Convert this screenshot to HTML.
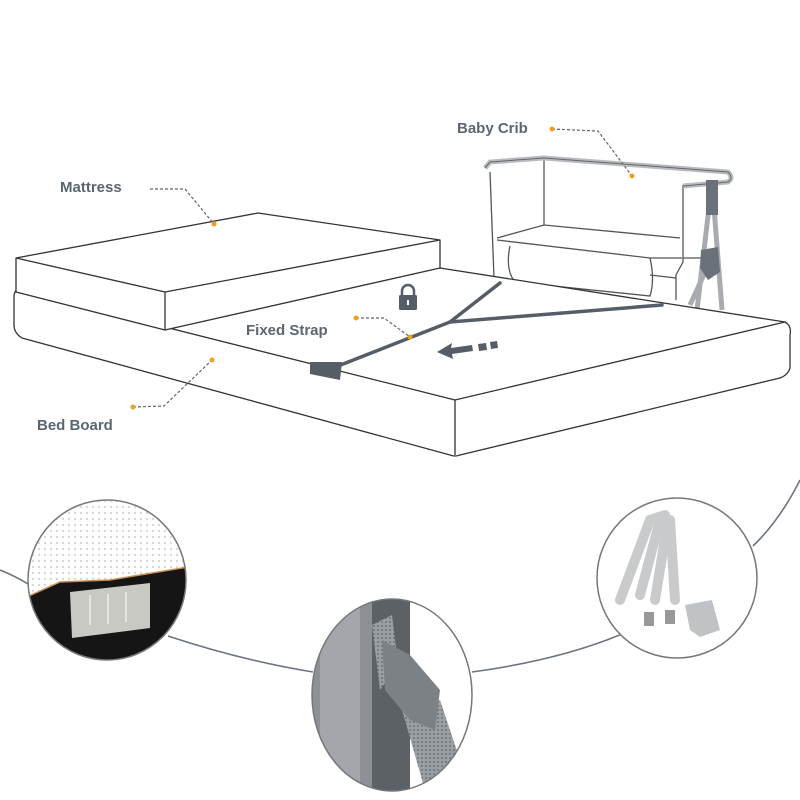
<!DOCTYPE html>
<html><head><meta charset="utf-8"><style>
html,body{margin:0;padding:0;background:#fff;}
svg{display:block}
text{font-family:"Liberation Sans",sans-serif;font-weight:bold;fill:#5b6673;font-size:15px}
</style></head><body>
<svg width="800" height="800" viewBox="0 0 800 800">
<defs>
<clipPath id="c1"><ellipse cx="107" cy="580" rx="79" ry="80"/></clipPath>
<clipPath id="c2"><ellipse cx="392" cy="695" rx="80" ry="96"/></clipPath>
<clipPath id="c3"><ellipse cx="677" cy="578" rx="80" ry="80"/></clipPath>
<pattern id="dots" width="6" height="6" patternUnits="userSpaceOnUse"><circle cx="3" cy="3" r="1.2" fill="#d8d8d8"/></pattern>
<pattern id="mesh" width="4" height="4" patternUnits="userSpaceOnUse"><rect width="4" height="4" fill="#9a9fa3"/><circle cx="2" cy="2" r="1" fill="#6e7378"/></pattern>
</defs>

<!-- crib -->
<path d="M712,182 L697,310 M712,182 L722,310 M706,270 L690,305" stroke="#a8acb0" stroke-width="5" fill="none"/>
<g fill="none" stroke="#555" stroke-width="1.3">
<path d="M544,160 L544,225"/>
<path d="M497,238 L544,225 L680,238"/>
<path d="M497,240 L650,258 L682,258"/>
<path d="M510,246 Q505,270 515,282 L650,296 Q655,280 650,258"/>
<path d="M683,185 L683,262 L676,275 L676,300"/>
<path d="M650,275 L676,278"/>
<path d="M490,172 L494,278"/>
<path d="M683,258 L705,258"/>
</g>
<path d="M485,168 L490,162 L544,158 L728,172 Q734,178 728,182 L683,186" fill="none" stroke="#b8bcc0" stroke-width="5"/>
<path d="M485,168 L490,162 L544,158 L728,172 Q734,178 728,182 L683,186" fill="none" stroke="#666" stroke-width="1"/>
<rect x="706" y="180" width="12" height="35" fill="#6b7178"/>
<path d="M701,250 L718,247 L720,272 L708,280 L700,268Z" fill="#6b7178"/>

<!-- bed board -->
<g fill="#fff" stroke="#333" stroke-width="1.3" stroke-linejoin="round">
<path d="M18,290 L440,268 L785,322 Q792,326 790,335 L790,368 Q788,375 780,378 L460,455 Q455,457 450,455 L22,338 Q14,333 14,325 L14,298 Q14,290 18,290Z"/>
<path d="M18,290 L455,400 L785,322" fill="none"/>
<path d="M455,400 L455,455" fill="none"/>
</g>
<!-- mattress -->
<g fill="#fff" stroke="#333" stroke-width="1.3" stroke-linejoin="round">
<path d="M16,258 L258,213 L440,240 L440,268 L165,330 L16,292Z"/>
<path d="M16,258 L165,292 L440,240 M165,292 L165,330" fill="none"/>
</g>

<!-- strap -->
<g stroke="#555d66" stroke-width="3.5" fill="none" stroke-linecap="round">
<path d="M500,283 L450,322 L338,366"/>
<path d="M450,322 L662,305"/>
</g>
<path d="M310,362 L342,362 L340,380 L310,374Z" fill="#555d66"/>
<path d="M437,352 L452,343 L451,348 L472,345 L473,351 L452,354 L453,359Z" fill="#555d66"/>
<path d="M478,344 L486,343 L487,350 L479,351Z M490,342 L497,341 L498,348 L491,349Z" fill="#555d66"/>
<!-- lock -->
<path d="M402,296 v-5 a6,6 0 0 1 12,0 v5" fill="none" stroke="#555d66" stroke-width="2.5"/>
<rect x="399" y="295" width="18" height="15" rx="1.5" fill="#555d66"/>
<rect x="407" y="300" width="2" height="5" fill="#fff"/>

<!-- labels -->
<text x="457" y="133">Baby Crib</text>
<text x="60" y="192">Mattress</text>
<text x="246" y="335">Fixed Strap</text>
<text x="37" y="430">Bed Board</text>
<g stroke="#666" stroke-width="1.2" stroke-dasharray="3,2" fill="none">
<path d="M552,129 L598,131 L632,176"/>
<path d="M150,189 L185,189 L214,224"/>
<path d="M356,318 L384,318 L410,337"/>
<path d="M133,407 L164,406 L212,360"/>
</g>
<g fill="#f0a020">
<circle cx="552" cy="129" r="2.5"/><circle cx="632" cy="176" r="2.5"/>
<circle cx="214" cy="224" r="2.5"/><circle cx="356" cy="318" r="2.5"/>
<circle cx="410" cy="337" r="2.5"/><circle cx="133" cy="407" r="2.5"/>
<circle cx="212" cy="360" r="2.5"/>
</g>

<!-- connecting curve -->
<g fill="none" stroke="#6b7480" stroke-width="1.6">
<path d="M0,570 Q15,576 28,584"/>
<path d="M168,636 Q240,660 313,672"/>
<path d="M472,672 Q560,660 622,634"/>
<path d="M753,546 Q780,520 800,480"/>
</g>

<!-- circle 1 -->
<g clip-path="url(#c1)">
<rect x="20" y="495" width="180" height="170" fill="#fff"/>
<rect x="20" y="495" width="180" height="100" fill="url(#dots)"/>
<path d="M20,600 L60,582 L110,580 L200,565 L200,665 L20,665Z" fill="#151515"/>
<path d="M20,600 L60,582 L110,580 L200,565" stroke="#c89050" stroke-width="1.5" fill="none"/>
<path d="M70,592 L150,583 L150,628 L72,638Z" fill="#c9c9c4"/>
<path d="M90,595 v30 M108,594 v30 M126,592 v30" stroke="#eee" stroke-width="1.5"/>
</g>
<ellipse cx="107" cy="580" rx="79" ry="80" fill="none" stroke="#777" stroke-width="1.5"/>

<!-- circle 2 -->
<g clip-path="url(#c2)">
<rect x="310" y="595" width="165" height="205" fill="#fff"/>
<rect x="312" y="595" width="60" height="205" fill="#8d9195"/>
<rect x="320" y="595" width="40" height="205" fill="#a3a7ab"/>
<rect x="372" y="595" width="38" height="205" fill="#5c6166"/>
<path d="M402,710 L440,700 L460,760 L425,790 Z" fill="url(#mesh)"/>
<path d="M372,625 L392,615 L398,665 L380,690Z" fill="url(#mesh)"/>
<path d="M382,640 L410,655 L440,690 L435,730 L410,720 L385,690Z" fill="#7c8186"/>
</g>
<ellipse cx="392" cy="695" rx="80" ry="96" fill="none" stroke="#777" stroke-width="1.5"/>

<!-- circle 3 -->
<g clip-path="url(#c3)">
<rect x="595" y="495" width="165" height="170" fill="#fff"/>
<g stroke="#c8cacc" stroke-width="10" fill="none" stroke-linecap="round">
<path d="M620,600 L650,520 L665,515"/>
<path d="M640,595 L660,520"/>
<path d="M655,600 L668,520"/>
<path d="M675,600 L670,520"/>
</g>
<path d="M685,605 L712,600 L720,630 L700,637 L690,630Z" fill="#c0c3c5"/>
<rect x="644" y="612" width="10" height="14" fill="#999"/>
<rect x="665" y="610" width="10" height="14" fill="#999"/>
</g>
<ellipse cx="677" cy="578" rx="80" ry="80" fill="none" stroke="#777" stroke-width="1.5"/>
</svg>
</body></html>
